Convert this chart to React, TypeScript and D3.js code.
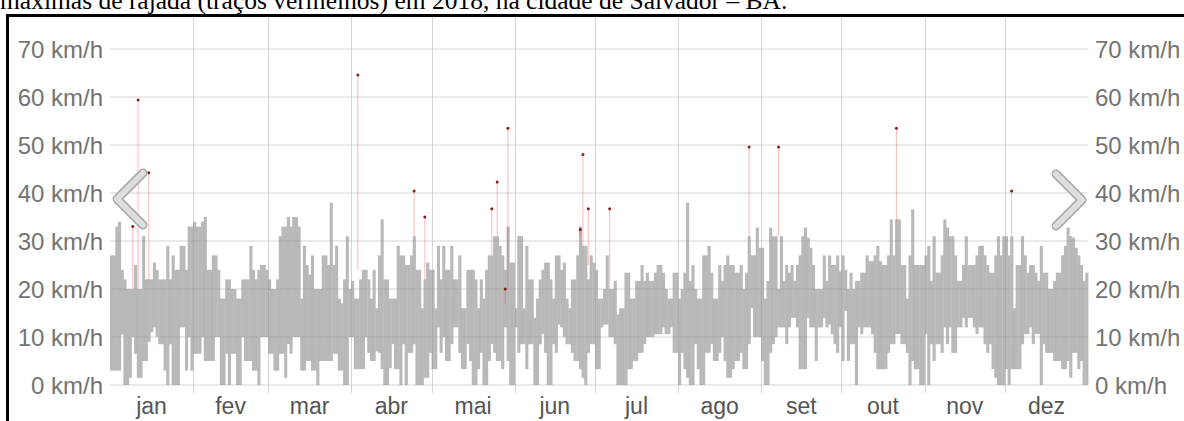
import React, { useEffect, useRef } from 'react';
import * as d3 from 'd3';

// Daily wind speed range (km/h) for 2018, one value per day (365)
const windHigh: number[] = [
  27, 27, 33, 34, 24, 22, 20, 20, 20, 25,
  20, 20, 31, 22, 22, 22, 25.5, 24, 22, 22,
  22, 29, 22, 27, 24, 24, 29, 29, 24, 33,
  33, 34, 33, 33, 34, 35, 24, 24, 27, 27,
  24, 18, 18, 22, 22, 20, 20, 18, 18, 22,
  22, 22, 29, 24, 22, 24, 25, 25, 24, 22,
  20, 20, 22, 31, 33, 33, 35, 33, 35, 35,
  33, 18, 29, 25, 23, 27, 20, 20, 20, 27,
  27, 25, 38, 25, 29, 18, 17, 22, 31, 20,
  21.7, 18, 18, 22, 24, 24, 22, 18, 24, 16,
  27, 34.5, 22, 22, 18, 18, 18, 29, 27, 27,
  25, 25, 27, 31, 24, 24, 16, 22, 25.5, 24,
  24, 16, 29, 22, 29, 24, 24, 29, 22, 22,
  27, 16, 16, 24, 24, 24, 22, 16, 22, 18,
  24, 27, 27, 31, 31, 29, 27, 24, 33, 25.5,
  25.5, 16, 31, 31, 16, 29, 22, 22, 14, 18,
  22, 24, 25.5, 25.5, 22, 18, 27, 27, 24, 25.5,
  18, 16, 22, 22, 27, 33, 29, 29, 22, 27,
  25.5, 24, 18, 18, 20, 27, 20, 20, 21.7, 14.7,
  16, 16, 23.4, 23.4, 18, 18, 21.7, 21.7, 25, 21.7,
  23.4, 21.7, 21.7, 23.4, 25, 25, 23.4, 20, 18, 18,
  23.4, 23.4, 18, 20, 23.4, 38, 21.7, 25, 20, 18,
  18, 27, 27, 29, 23.4, 18, 18, 25, 21.7, 25,
  27, 25, 25, 23.4, 23.4, 25, 20, 23.4, 31, 27,
  27, 32.8, 28.6, 28.6, 18, 21.7, 32.8, 31, 31, 20,
  31, 21.7, 25, 23.4, 25, 21.7, 25, 27, 31, 32.8,
  30.7, 28.6, 25, 20, 20, 20, 27, 21.7, 27, 25,
  25, 27, 23.7, 27, 24, 20, 23.4, 20, 21.7, 21.7,
  23.4, 23.4, 27, 25.8, 25.8, 27, 29, 25.8, 25, 25,
  27, 34.5, 27, 34.5, 34.5, 25, 25, 18, 27, 36.6,
  25, 25, 25, 25, 27, 29, 21.7, 31, 23.4, 23.4,
  27, 34.5, 32.8, 31, 31, 27, 21.7, 21.7, 25, 31,
  25, 25, 25, 27, 29, 29, 27, 25, 23.4, 23.4,
  27, 31, 27, 31, 31, 27, 31, 16, 25, 25,
  31, 27, 23.4, 25, 25, 23.4, 21.7, 29, 23.4, 23.4,
  20, 20, 21.7, 23.4, 23.4, 27, 29, 32.8, 31, 30.7,
  28.6, 27, 25, 21.7, 23.4,
];

const windLow: number[] = [
  3, 3, 3, 3, 10.5, 0, 0, 1.5, 10, 6.5,
  1.5, 1.5, 5, 5, 9, 11, 12, 10, 8.5, 8.5,
  3, 0, 8.5, 0, 0, 0, 12, 12, 3, 10,
  3, 6.5, 6.5, 6.5, 10, 5, 5, 5, 5, 10,
  10, 0, 0, 6.5, 0, 6.5, 6.5, 0, 0, 10,
  5, 5, 5, 3, 3, 0, 10, 10, 10, 6.5,
  6.5, 3, 3, 6.5, 6.5, 1.5, 8.5, 6.5, 10, 10,
  10, 3, 3, 5, 5, 3, 3, 0, 5, 5,
  5, 5, 5, 6.5, 6.5, 3, 3, 0, 0, 10,
  10, 3.3, 3.3, 3.3, 3.3, 10, 6.7, 5, 5, 7,
  6.7, 3.3, 0, 0, 3.5, 8.5, 3.3, 3.3, 0, 8.5,
  0, 6.7, 6.7, 8.5, 0, 0, 0, 1.5, 1.5, 6.7,
  3.3, 3.3, 12, 6.7, 10, 5, 5, 8.5, 12, 12,
  6.7, 3.3, 3.3, 8.5, 5, 0, 0, 3.3, 6.7, 0,
  0, 5, 8.5, 6.7, 5, 5, 3.3, 12, 5, 0,
  0, 12, 6.7, 8.5, 8.5, 3.3, 8.5, 8.5, 0, 0,
  8.5, 10.6, 6.7, 0, 0, 8.5, 6.7, 12.6, 12, 10,
  8.5, 8.5, 6.7, 5, 5, 3.3, 1.5, 0, 6.7, 8.5,
  8.5, 3.3, 3.3, 12, 12.6, 12.6, 10, 10, 8.5, 0,
  0, 0, 0, 3.3, 3.3, 5, 5, 6.7, 6.7, 8.5,
  10, 10, 10, 10.6, 10.6, 10.6, 12, 10.6, 10.6, 12,
  6.7, 6.7, 0, 6.7, 3.3, 1.5, 0, 0, 8.5, 3.3,
  0, 0, 6.7, 6.7, 8.5, 5, 5, 6.7, 10, 5,
  1.5, 1.5, 3.3, 5, 5, 6.7, 3.3, 3.3, 8.5, 16,
  10, 10, 10, 5, 0, 0, 6.7, 8.5, 10, 12,
  12, 12, 8.5, 12, 14, 14, 12, 3.3, 3.3, 3.3,
  14, 12, 12, 5, 12, 12, 14, 12, 12.6, 10.6,
  8.5, 6.7, 12, 5, 15.4, 5, 8.5, 8.5, 0, 12,
  10.6, 12, 12, 12, 10.6, 6.7, 3.3, 3.3, 3.3, 3.3,
  6.7, 8.5, 8.5, 10.6, 10.6, 8.5, 8.5, 6.7, 0, 5,
  3.3, 3.3, 0, 0, 10.6, 0, 8.5, 5, 8.5, 8.5,
  6.7, 12, 8.5, 12, 6.7, 6.7, 12, 12, 14, 12,
  14, 14, 12, 10.6, 12, 12, 8.5, 6.7, 8.5, 3.3,
  1.5, 0, 0, 0, 3.3, 0, 3.3, 3.3, 3.3, 3.3,
  8.5, 10.6, 10.6, 12, 8.5, 10.6, 10.6, 0, 8.5, 6.7,
  6.7, 6.7, 5, 5, 5, 3.3, 3.3, 5, 1.5, 6.7,
  6.7, 3.3, 5, 0, 0,
];

// Gusts: day of year, gust maximum, lower end of the red trace (km/h)
const gustDay: number[] = [8, 10, 14, 92, 113, 117, 142, 144, 147, 148, 175, 176, 178, 186, 238, 249, 293, 336];
const gustTop: number[] = [33, 59.4, 44.2, 64.6, 40.4, 35, 36.7, 42.3, 20, 53.5, 32.4, 48, 36.7, 36.7, 49.6, 49.6, 53.5, 40.4];
const gustBase: number[] = [20, 20, 21.7, 24, 31, 22, 27, 31, 17, 20, 31, 29, 25, 20, 31, 31, 34, 31];

const speedTicks = [0, 10, 20, 30, 40, 50, 60, 70];
const monthLabels = ['jan', 'fev', 'mar', 'abr', 'mai', 'jun', 'jul', 'ago', 'set', 'out', 'nov', 'dez'];
const caption = 'máximas de rajada (traços vermelhos) em 2018, na cidade de Salvador – BA.';

const W = 1184;
const H = 421;

const App: React.FC = () => {
  const svgRef = useRef<SVGSVGElement>(null);

  useEffect(() => {
    if (!svgRef.current) return;
    const svg = d3.select(svgRef.current);
    svg.selectAll('*').remove();

    const start = new Date(Date.UTC(2018, 0, 1));
    const end = new Date(Date.UTC(2019, 0, 1));
    const day = (d: number) => d3.utcDay.offset(start, d);

    const x = d3.scaleUtc().domain([start, end]).range([110, 1088]);
    const y = d3.scaleLinear().domain([0, 70]).range([385, 49]);

    const sans = '"Liberation Sans", Arial, sans-serif';

    // caption (cut off at the top in the reference)
    svg.append('text')
      .attr('x', 0)
      .attr('y', 8.5)
      .attr('font-family', '"Liberation Serif", "Times New Roman", serif')
      .attr('font-size', 25.5)
      .attr('fill', '#000')
      .text(caption);

    // frame
    svg.append('path')
      .attr('d', `M7.5,${H} V15.5 H${W}`)
      .attr('fill', 'none')
      .attr('stroke', '#000')
      .attr('stroke-width', 3);

    // grid under the data
    const gridColor = '#e6e6e6';
    svg.append('g').selectAll('line')
      .data(speedTicks)
      .join('line')
      .attr('x1', 110).attr('x2', 1088)
      .attr('y1', d => y(d)).attr('y2', d => y(d))
      .attr('stroke', gridColor);

    const monthStarts = d3.utcMonth.range(start, end);
    svg.append('g').selectAll('line')
      .data(monthStarts.slice(1))
      .join('line')
      .attr('x1', d => Math.round(x(d)) + 0.5).attr('x2', d => Math.round(x(d)) + 0.5)
      .attr('y1', 17).attr('y2', 393)
      .attr('stroke', gridColor);

    // daily wind range bars
    svg.append('g').selectAll('rect')
      .data(windHigh.map((hi, i) => ({ i, hi, lo: windLow[i] })))
      .join('rect')
      .attr('x', d => x(day(d.i)))
      .attr('width', d => x(day(d.i + 1)) - x(day(d.i)) + 0.4)
      .attr('y', d => y(d.hi))
      .attr('height', d => y(d.lo) - y(d.hi))
      .attr('fill', '#b8b8b8');

    // grid lines show faintly through the bars
    svg.append('g').selectAll('line')
      .data(speedTicks)
      .join('line')
      .attr('x1', 110).attr('x2', 1088)
      .attr('y1', d => y(d)).attr('y2', d => y(d))
      .attr('stroke', 'rgba(0,0,0,0.07)');
    svg.append('g').selectAll('line')
      .data(monthStarts.slice(1))
      .join('line')
      .attr('x1', d => Math.round(x(d)) + 0.5).attr('x2', d => Math.round(x(d)) + 0.5)
      .attr('y1', 17).attr('y2', 393)
      .attr('stroke', 'rgba(0,0,0,0.07)');

    // gust traces
    const gusts = gustDay.map((d, i) => ({ d, top: gustTop[i], base: gustBase[i] }));
    const dayCenter = (d: number) => (x(day(d)) + x(day(d + 1))) / 2;
    const gustG = svg.append('g');
    gustG.selectAll('line')
      .data(gusts)
      .join('line')
      .attr('x1', d => dayCenter(d.d)).attr('x2', d => dayCenter(d.d))
      .attr('y1', d => y(d.top)).attr('y2', d => y(d.base))
      .attr('stroke', 'rgba(235,60,60,0.35)')
      .attr('stroke-width', 1);
    gustG.selectAll('circle')
      .data(gusts)
      .join('circle')
      .attr('cx', d => dayCenter(d.d))
      .attr('cy', d => y(d.top))
      .attr('r', 1.5)
      .attr('fill', '#8a1a1a');

    // y axis labels, both sides
    const labelColor = '#737373';
    svg.append('g').selectAll('text')
      .data(speedTicks)
      .join('text')
      .attr('x', 103)
      .attr('y', d => y(d))
      .attr('dy', '0.36em')
      .attr('text-anchor', 'end')
      .attr('font-family', sans)
      .attr('font-size', 24)
      .attr('fill', labelColor)
      .text(d => `${d} km/h`);
    svg.append('g').selectAll('text')
      .data(speedTicks)
      .join('text')
      .attr('x', 1095)
      .attr('y', d => y(d))
      .attr('dy', '0.36em')
      .attr('text-anchor', 'start')
      .attr('font-family', sans)
      .attr('font-size', 24)
      .attr('fill', labelColor)
      .text(d => `${d} km/h`);

    // month labels, centred in each month
    svg.append('g').selectAll('text')
      .data(monthStarts)
      .join('text')
      .attr('x', (d, i) => (x(d) + x(i < 11 ? monthStarts[i + 1] : end)) / 2)
      .attr('y', 414)
      .attr('text-anchor', 'middle')
      .attr('font-family', sans)
      .attr('font-size', 23)
      .attr('fill', '#555')
      .text((_, i) => monthLabels[i]);

    // navigation chevrons
    const chevrons = [
      [[143, 173], [117, 199], [143, 225]],
      [[1056, 174], [1082, 200], [1056, 226]],
    ];
    const line = d3.line();
    const chevG = svg.append('g');
    chevrons.forEach(pts => {
      const dPath = line(pts as [number, number][]);
      chevG.append('path').attr('d', dPath).attr('fill', 'none')
        .attr('stroke', '#a9a9a9').attr('stroke-width', 9)
        .attr('stroke-linecap', 'round').attr('stroke-linejoin', 'round');
      chevG.append('path').attr('d', dPath).attr('fill', 'none')
        .attr('stroke', '#dedede').attr('stroke-width', 6)
        .attr('stroke-linecap', 'round').attr('stroke-linejoin', 'round');
    });
  }, []);

  return (
    <>
      <style>{'html,body{margin:0;padding:0;background:#fff;overflow:hidden}'}</style>
      <svg ref={svgRef} width={W} height={H} style={{ display: 'block' }} />
    </>
  );
};

export default App;
